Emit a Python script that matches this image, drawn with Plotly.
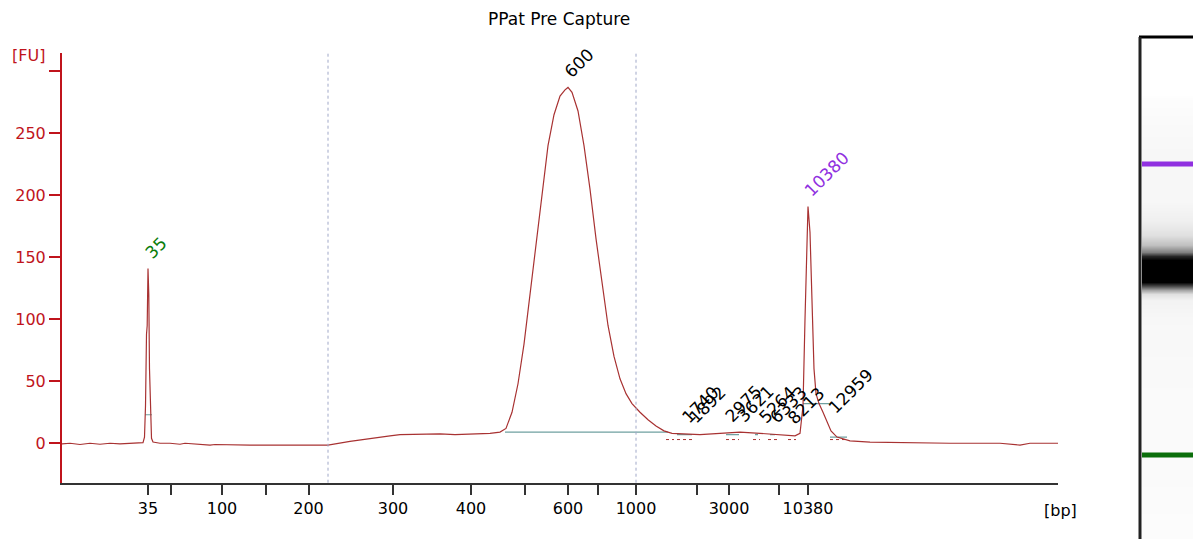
import plotly.graph_objects as go

W, H = 1193, 539

# ladder sizes and their migration positions (s) on the time axis
ladder_bp = [35, 50, 100, 150, 200, 300, 400, 500, 600, 700, 1000, 2000, 3000, 7000, 10380]
ladder_t = [28.6, 30.9, 36.0, 40.4, 44.65, 53.1, 60.9, 66.25, 70.6, 73.6, 77.4, 83.5, 86.7, 91.7, 94.6]
ladder_shown = [35, 100, 200, 300, 400, 600, 1000, 3000, 10380]

# electropherogram trace
time_s = [20.0, 20.8, 21.8, 22.8, 23.8, 24.8, 25.8, 26.8, 27.8, 28.1, 28.25, 28.35, 28.45, 28.52,
          28.6, 28.68, 28.75, 28.85, 28.95, 29.1, 29.8, 30.8, 31.8, 32.3, 33.8, 34.8, 35.3, 38.8,
          43.8, 46.6, 48.8, 50.8, 52.8, 53.8, 55.8, 57.8, 59.3, 60.8, 62.8, 63.8, 64.4, 65.0, 65.6,
          66.2, 66.8, 67.4, 68.0, 68.6, 69.2, 69.8, 70.3, 70.6, 71.0, 71.6, 72.2, 72.8, 73.4, 74.0,
          74.6, 75.2, 75.8, 76.4, 77.0, 77.8, 78.6, 79.4, 80.2, 81.0, 82.3, 83.8, 85.8, 87.8, 89.8,
          91.8, 93.3, 93.8, 94.1, 94.3, 94.5, 94.6, 94.8, 95.0, 95.2, 95.4, 95.7, 96.1, 96.5, 96.9,
          97.5, 98.8, 100.8, 103.8, 108.8, 113.8, 115.8, 116.8, 119.6]
fu = [-0.5, 0, -1, 0, -0.8, 0, -0.5, 0, 0, 0.5, 5, 30, 88, 95,
      141, 120, 60, 20, 4, 1, 0, 0, -0.8, 0, -1, -1.5, -1, -1.5,
      -1.5, -1.5, 1.5, 4, 6, 7, 7.5, 7.5, 7, 7.5, 8, 9, 12, 25, 48,
      80, 120, 165, 205, 240, 265, 280, 285, 287, 283, 268, 240, 205, 165, 128,
      95, 70, 52, 40, 32, 25, 19, 14, 10, 8, 7.5, 7, 8, 9, 8,
      7, 6, 8, 30, 100, 170, 191, 170, 110, 60, 40, 32, 25, 18, 10,
      5, 2, 1, 0.5, 0, 0, -1.5, 0, 0]

# called peaks
peak_bp = [35, 600, 1740, 1892, 2975, 3621, 5264, 6333, 8213, 10380, 12959]
peak_t = [28.6, 70.6, 82.3, 83.0, 86.6, 87.8, 90.0, 91.1, 92.9, 94.6, 97.0]
peak_fu = [141, 287, 8, 8, 9, 9, 8, 8, 7, 191, 16]
lower_marker, upper_marker = 35, 10380

# smear region limits and peak baselines
region_t = [46.6, 77.4]
base_t0 = [28.3, 64.3, 81.5, 86.4, 89.3, 90.8, 94.1, 96.8]
base_t1 = [29.0, 80.6, 83.0, 87.7, 89.6, 91.3, 96.8, 98.5]
base_fu = [23, 9, 7, 7, 7, 7, 32, 5]
area_t0 = [80.4, 81.5, 86.4, 89.1, 90.6, 92.6, 96.8]
area_t1 = [81.2, 83.0, 87.7, 89.8, 91.5, 93.4, 98.5]
area_fu = [3, 3, 3, 3, 3, 3, 3]

# gel lane (position down the lane, band intensity)
gel_pos = [37, 95, 100, 120, 150, 175, 200, 220, 235, 245, 252, 256, 260, 282, 286, 290, 294, 300,
           320, 400, 450, 470, 539]
gel_int = [0.0, 0.0, 0.01, 0.02, 0.03, 0.03, 0.03, 0.06, 0.12, 0.25, 0.5, 0.85, 1.0, 1.0, 0.7, 0.35,
           0.12, 0.05, 0.03, 0.02, 0.02, 0.02, 0.01]
gel_marker_pos = [164, 455]

RED = "#c0141c"
TRACE = "#a83232"
FONT = "DejaVu Sans"


def segs(t0, t1, v):
    xs, ys = [], []
    for a, b, c in zip(t0, t1, v):
        xs += [a, b, None]
        ys += [c, c, None]
    return xs, ys


fig = go.Figure()

ax, ay = segs(area_t0, area_t1, area_fu)
fig.add_trace(go.Scatter(x=ax, y=ay, mode="lines", line=dict(color=TRACE, width=1, dash="dot"),
                         hoverinfo="skip"))
bx, by = segs(base_t0, base_t1, base_fu)
fig.add_trace(go.Scatter(x=bx, y=by, mode="lines", line=dict(color="#6fa0a0", width=1.2),
                         hoverinfo="skip"))
fig.add_trace(go.Scatter(x=time_s, y=fu, mode="lines", line=dict(color=TRACE, width=1.2)))

# gel lane
fig.add_trace(go.Heatmap(x=[0, 1], y=gel_pos, z=[[v, v] for v in gel_int], xaxis="x2", yaxis="y2",
                         colorscale=[[0, "#ffffff"], [1, "#000000"]], zmin=0, zmax=1,
                         zsmooth="best", showscale=False))
for pos, col in zip(gel_marker_pos, ["#9030e0", "#0b6e0b"]):
    fig.add_trace(go.Scatter(x=[0, 1], y=[pos, pos], mode="lines", xaxis="x2", yaxis="y2",
                             line=dict(color=col, width=5)))

for t in region_t:
    fig.add_shape(type="line", xref="x", yref="y domain", x0=t, x1=t, y0=0, y1=1,
                  line=dict(color="#a0a8c8", width=1, dash="dot"))

for bp, t, v in zip(peak_bp, peak_t, peak_fu):
    col = "#0b7d0b" if bp == lower_marker else ("#9030e0" if bp == upper_marker else "black")
    fig.add_annotation(x=t, y=v, text=str(bp), showarrow=False, textangle=-45,
                       xanchor="left", yanchor="bottom", xshift=-10, yshift=3,
                       font=dict(family=FONT, size=17, color=col))

fig.add_annotation(xref="paper", yref="paper", x=559 / W, y=1 - 19 / H, text="PPat Pre Capture",
                   xanchor="center", yanchor="middle", showarrow=False,
                   font=dict(family=FONT, size=17, color="black"))
fig.add_annotation(xref="paper", yref="paper", x=28 / W, y=1 - 55 / H, text="[FU]",
                   xanchor="center", yanchor="middle", showarrow=False,
                   font=dict(family=FONT, size=16, color=RED))
fig.add_annotation(xref="paper", yref="paper", x=1060 / W, y=1 - 510 / H, text="[bp]",
                   xanchor="center", yanchor="middle", showarrow=False,
                   font=dict(family=FONT, size=16, color="black"))

# gel frame
fig.add_shape(type="line", xref="paper", yref="paper", x0=1139 / W, x1=1, y0=1 - 37 / H,
              y1=1 - 37 / H, line=dict(color="black", width=3))
fig.add_shape(type="line", xref="paper", yref="paper", x0=1140 / W, x1=1140 / W, y0=0,
              y1=1 - 37 / H, line=dict(color="#222", width=3))

fig.update_layout(
    width=W, height=H,
    margin=dict(l=0, r=0, t=0, b=0),
    paper_bgcolor="white", plot_bgcolor="white",
    showlegend=False,
    xaxis=dict(domain=[62 / W, 1058 / W], range=[20, 119.6], showgrid=False, zeroline=False,
               showline=True, linecolor="#333", linewidth=2, ticks="outside", ticklen=10,
               tickwidth=2, tickcolor="#333", tickvals=ladder_t,
               ticktext=[str(b) if b in ladder_shown else "" for b in ladder_bp],
               tickfont=dict(family=FONT, size=16, color="black")),
    yaxis=dict(domain=[1 - 482.7 / H, 1 - 52.7 / H], range=[-31.8, 315], showgrid=False,
               zeroline=False, showline=True, linecolor=RED, linewidth=2, ticks="outside",
               ticklen=11, tickwidth=2, tickcolor=RED, tickvals=[0, 50, 100, 150, 200, 250, 300],
               ticktext=["0", "50", "100", "150", "200", "250", ""],
               tickfont=dict(family=FONT, size=16, color=RED)),
    xaxis2=dict(domain=[1142 / W, 1], range=[0, 1], visible=False, anchor="y2"),
    yaxis2=dict(domain=[0, 1 - 37 / H], range=[539, 37], visible=False, anchor="x2"),
)

fig.write_html("out.html", config={"displayModeBar": False},
               post_script="document.body.style.margin = '0';")
